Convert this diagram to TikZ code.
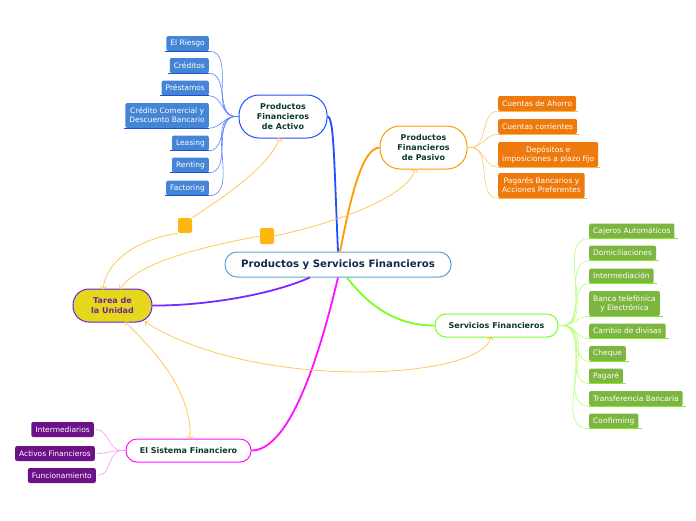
\documentclass[tikz,border=0pt]{standalone}
\usepackage{fontspec}
\setmainfont{DejaVu Sans}
\usetikzlibrary{calc,arrows.meta}
\definecolor{cenb}{HTML}{5BA3D9}
\definecolor{cent}{HTML}{12294D}
\definecolor{dgreen}{HTML}{0B3A2A}
\definecolor{actb}{HTML}{1F50FF}
\definecolor{bcon}{HTML}{5A80FF}
\definecolor{bfill}{HTML}{4585D6}
\definecolor{bline}{HTML}{1A4FD6}
\definecolor{pasb}{HTML}{FF9A00}
\definecolor{ocon}{HTML}{FFC670}
\definecolor{ofill}{HTML}{EE7A0E}
\definecolor{oline}{HTML}{FFB845}
\definecolor{serb}{HTML}{7CFF1E}
\definecolor{gcon}{HTML}{B5FF70}
\definecolor{gfill}{HTML}{7CB640}
\definecolor{gline}{HTML}{80EE20}
\definecolor{sisb}{HTML}{FF10FF}
\definecolor{pcon}{HTML}{FF90FF}
\definecolor{pfill}{HTML}{6C1187}
\definecolor{tfill}{HTML}{E4D71C}
\definecolor{tbord}{HTML}{6A1FE6}
\definecolor{tbranch}{HTML}{7A2AFF}
\definecolor{ttext}{HTML}{6E2596}
\definecolor{relc}{HTML}{FFC85A}
\definecolor{sqc}{HTML}{FFB612}
\begin{document}
\begin{tikzpicture}[x=1pt,y=-1pt,
  leaf/.style={rounded corners=2pt, inner xsep=4pt, inner ysep=0pt, minimum height=15pt,
    font=\fontsize{7.5}{9}\selectfont, text=white, align=center},
  bleaf/.style={leaf, fill=bfill, anchor=east},
  oleaf/.style={leaf, fill=ofill, anchor=west},
  gleaf/.style={leaf, fill=gfill, anchor=west},
  pleaf/.style={leaf, fill=pfill, anchor=east},
  twol/.style={minimum height=25pt},
  secnode/.style={draw, line width=1pt, fill=white, text=dgreen, align=center,
    font=\bfseries\fontsize{8}{10}\selectfont, inner sep=0pt},
  con/.style={line width=0.6pt},
  mainbr/.style={line width=1.8pt},
  relh/.style={draw=relc, line width=0.8pt, arrows={Straight Barb[length=3pt,width=6pt]-}},
  relf/.style={draw=relc, line width=0.8pt, arrows={Straight Barb[length=3pt,width=6pt]-Straight Barb[length=3pt,width=6pt]}},
  sq/.style={fill=sqc, rounded corners=2pt, minimum width=14pt, minimum height=15pt, inner sep=0pt}
]
\useasboundingbox[fill=white] (0,0) rectangle (696,520);

% central and secondary nodes
\node[draw=cenb, line width=1pt, fill=white, rounded corners=12pt, minimum width=226pt, minimum height=25pt,
  text=cent, font=\bfseries\fontsize{10.2}{12}\selectfont, inner sep=0pt] (cen) at (338,264.5) {Productos y Servicios Financieros};
\node[secnode, draw=actb, rounded corners=20pt, minimum width=88pt, minimum height=43pt] (act) at (283,116.5) {Productos\\Financieros\\de Activo};
\node[secnode, draw=pasb, rounded corners=20pt, minimum width=87pt, minimum height=43pt] (pas) at (423.5,147.5) {Productos\\Financieros\\de Pasivo};
\node[secnode, draw=serb, rounded corners=11pt, minimum width=123pt, minimum height=23pt] (ser) at (496.5,325.5) {Servicios Financieros};
\node[secnode, draw=sisb, rounded corners=11pt, minimum width=125pt, minimum height=23pt] (sis) at (188.5,450.5) {El Sistema Financiero};
\node[draw=tbord, line width=1pt, fill=tfill, rounded corners=16pt, minimum width=79pt, minimum height=33pt,
  text=ttext, align=center, font=\bfseries\fontsize{8}{10}\selectfont, inner sep=0pt] (tar) at (112.5,305.5) {Tarea de\\la Unidad};

% main branches
\draw[mainbr, actb] (cen.north) .. controls (334,160) and (334,117) .. (act.east);
\draw[mainbr, pasb] ([xshift=2pt]cen.north) .. controls (348,212) and (360,148) .. (pas.west);
\draw[mainbr, serb] ([xshift=9pt]cen.south) .. controls (372,310) and (400,325.5) .. (ser.west);
\draw[mainbr, sisb] (cen.south) .. controls (322,345) and (292,450.5) .. (sis.east);
\draw[mainbr, tbranch] ([xshift=-28pt]cen.south) .. controls (268,296) and (200,306) .. (tar.east);

% blue leaves
\node[bleaf] (b1) at (209,43.5) {El Riesgo};
\node[bleaf] (b2) at (209,65.5) {Créditos};
\node[bleaf] (b3) at (209,88) {Préstamos};
\node[bleaf, twol] (b4) at (209,115.5) {Crédito Comercial y\\Descuento Bancario};
\node[bleaf] (b5) at (209,143) {Leasing};
\node[bleaf] (b6) at (209,165) {Renting};
\node[bleaf] (b7) at (209,188) {Factoring};
\foreach \n in {b1,b2,b3,b4,b5,b6,b7}{
  \draw[bline, line width=1.4pt] ([xshift=-1.5pt]\n.south west) -- (\n.south east);
  \draw[con, bcon] ([xshift=-3pt]act.west) to[out=180,in=0] (\n.south east);
}
\draw[con, bcon] ([xshift=-3pt]act.west) -- (act.west);

% orange leaves
\node[oleaf] (o1) at (498,103.5) {Cuentas de Ahorro};
\node[oleaf] (o2) at (498,126.5) {Cuentas corrientes};
\node[oleaf, twol] (o3) at (498,154.5) {Depósitos e\\imposiciones a plazo fijo};
\node[oleaf, twol] (o4) at (498,185.5) {Pagarés Bancarios y\\Acciones Preferentes};
\foreach \n in {o1,o2,o3,o4}{
  \draw[oline, line width=1.4pt] (\n.south west) -- ([xshift=2pt]\n.south east);
  \draw[con, ocon] ([xshift=3pt]pas.east) to[out=0,in=180] (\n.south west);
}
\draw[con, ocon] (pas.east) -- ([xshift=3pt]pas.east);

% green leaves
\node[gleaf] (g1) at (589,231) {Cajeros Automáticos};
\node[gleaf] (g2) at (589,253) {Domiciliaciones};
\node[gleaf] (g3) at (589,276) {Intermediación};
\node[gleaf, twol] (g4) at (589,303.5) {Banca telefónica\\y Electrónica};
\node[gleaf] (g5) at (589,331) {Cambio de divisas};
\node[gleaf] (g6) at (589,353.5) {Cheque};
\node[gleaf] (g7) at (589,376) {Pagaré};
\node[gleaf] (g8) at (589,398.5) {Transferencia Bancaria};
\node[gleaf] (g9) at (589,421) {Confirming};
\foreach \n in {g1,g2,g3,g4,g5,g6,g7,g8,g9}{
  \draw[gline, line width=1.4pt] (\n.south west) -- ([xshift=3pt]\n.south east);
  \draw[con, gcon] ([xshift=4pt]ser.east) to[out=0,in=180] (\n.south west);
}
\draw[con, gcon] (ser.east) -- ([xshift=4pt]ser.east);

% purple leaves
\node[pleaf] (p1) at (94,429.5) {Intermediarios};
\node[pleaf] (p2) at (95,453.5) {Activos Financieros};
\node[pleaf] (p3) at (96,475.5) {Funcionamiento};
\foreach \n in {p1,p2,p3}{
  \draw[con, pcon] ([xshift=-4pt]sis.west) to[out=180,in=0] ([xshift=2pt]\n.east);
}
\draw[con, pcon] ([xshift=-4pt]sis.west) -- (sis.west);

% relationships
\node[sq] (sq1) at (185,225.5) {};
\node[sq, minimum height=16pt] (sq2) at (267,236) {};
\draw[relh] ([xshift=-9.5pt,yshift=-1pt]tar.north) .. controls (106,262) and (135,240) .. (sq1.south west);
\draw[relh] ([xshift=-3pt,yshift=1pt]act.south) .. controls (268,168) and (222,198) .. (sq1.north east);
\draw[relh] ([xshift=7.5pt,yshift=-1pt]tar.north) .. controls (135,266) and (185,250) .. (sq2.west);
\draw[relh] ([xshift=-8pt,yshift=1pt]pas.south) .. controls (408,196) and (340,222) .. (sq2.east);
\draw[relf] ([xshift=32pt,yshift=1pt]tar.south) .. controls (255,392) and (482,380) .. ([xshift=-5.5pt,yshift=1pt]ser.south);
\draw[relf] ([xshift=12pt,yshift=1pt]tar.south) .. controls (165,360) and (192,398) .. ([xshift=1.5pt,yshift=-1pt]sis.north);
\end{tikzpicture}
\end{document}
